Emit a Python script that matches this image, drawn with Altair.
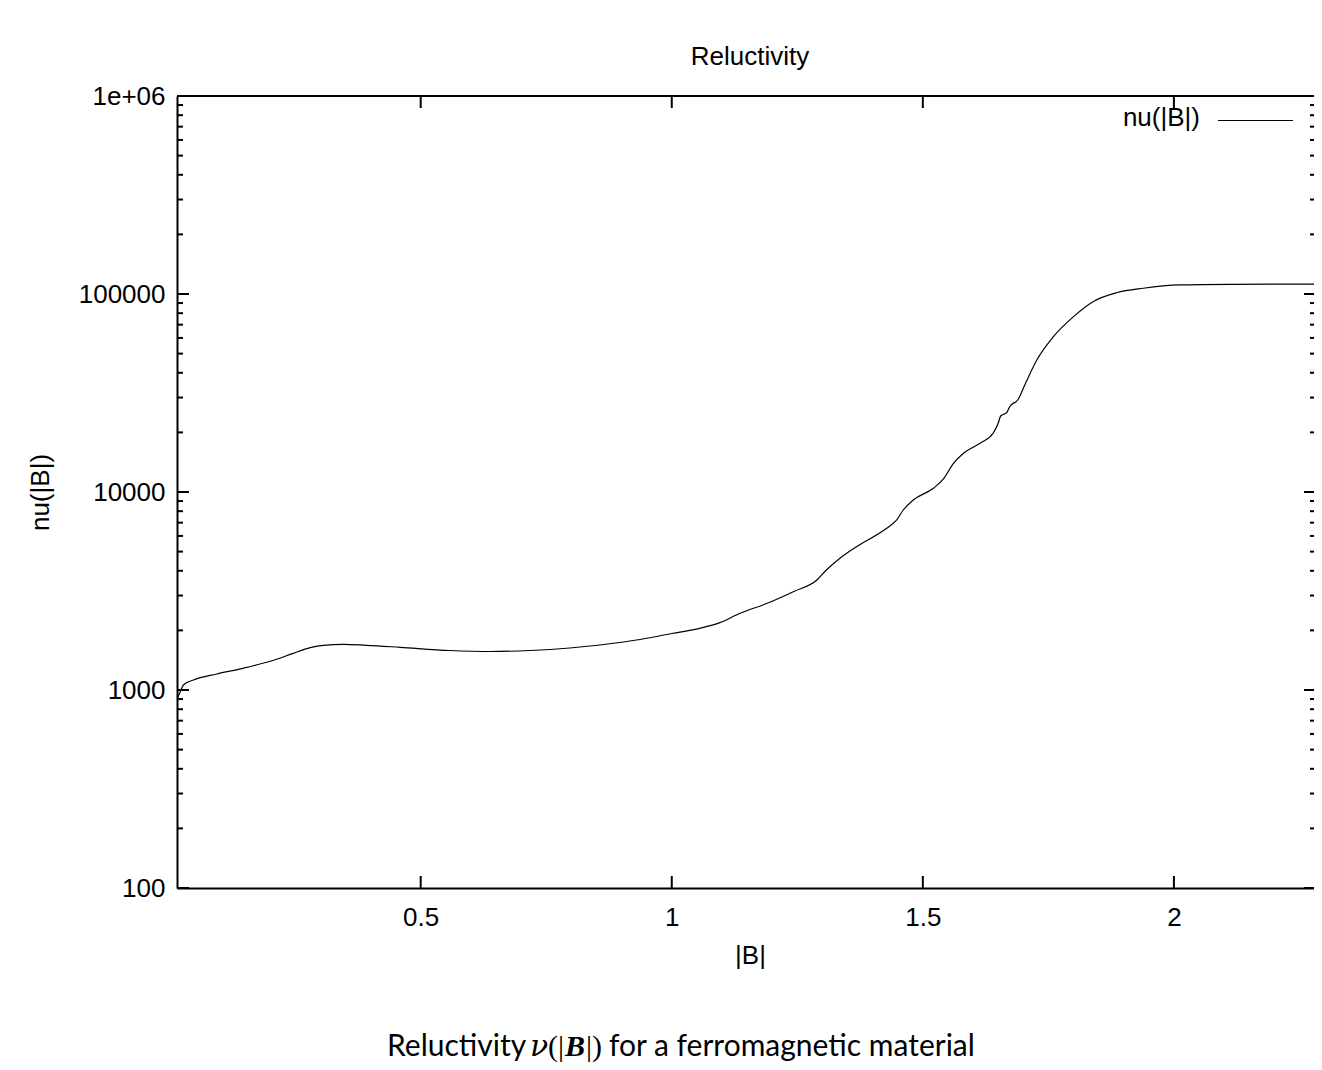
import altair as alt
import pandas as pd

# ---- data ----
B_vals = [0.0147, 0.0227, 0.0273, 0.0472, 0.0938, 0.146, 0.213, 0.246, 0.280, 0.306,
          0.346, 0.392, 0.459, 0.558, 0.638, 0.718, 0.797, 0.857, 0.937, 1.000,
          1.056, 1.096, 1.136, 1.189, 1.242, 1.289, 1.308, 1.335, 1.368, 1.428,
          1.448, 1.461, 1.481, 1.521, 1.541, 1.561, 1.581, 1.614, 1.640, 1.650,
          1.655, 1.667, 1.673, 1.690, 1.703, 1.727, 1.760, 1.800, 1.839, 1.886,
          1.939, 2.012, 2.112, 2.279]
nu_vals = [900, 1000, 1060, 1123, 1205, 1287, 1429, 1532, 1636, 1682,
           1701, 1682, 1643, 1583, 1565, 1583, 1630, 1688, 1799, 1929,
           2049, 2188, 2440, 2735, 3137, 3594, 4037, 4627, 5292, 6557,
           7221, 8111, 9111, 10440, 11633, 13957, 15686, 17620, 19796, 22233,
           24201, 25150, 26970, 29390, 34708, 46420, 60860, 76840, 91440, 101500,
           106900, 111070, 111970, 112300]

y_major = [100, 1000, 10000, 100000, 1000000]
y_major_labels = ["100", "1000", "10000", "100000", "1e+06"]
y_minor = [m * d for d in [100, 1000, 10000, 100000] for m in range(2, 10)]
x_major = [0.5, 1.0, 1.5, 2.0]
x_major_labels = ["0.5", "1", "1.5", "2"]
x_domain = [0.0147, 2.279]
y_domain = [100, 1000000]

title_text = ["Reluctivity"]
x_title = "|B|"
y_title = "nu(|B|)"
legend_label = ["nu(|B|)"]
caption_parts = ["Reluctivity", "\u03bd", "(|", "B", "|)", "for a ferromagnetic material"]

# ---- layout ----
W, H = 1137, 792
FONT = "Liberation Sans"
FS = 26


def label_expr(values, labels):
    expr = "''"
    for v, l in reversed(list(zip(values, labels))):
        expr = f"datum.value == {v} ? '{l}' : ({expr})"
    return expr


df = pd.DataFrame({"B": B_vals, "nu": nu_vals})
xs = alt.Scale(domain=x_domain, zero=False, nice=False)
ys = alt.Scale(type="log", domain=y_domain, nice=False)

x_axis = alt.Axis(
    values=x_major, labelExpr=label_expr(x_major, x_major_labels), ticks=False, tickSize=0,
    grid=False, labelPadding=16, labelFlush=False, labelOverlap=False,
    title=x_title, titleX=573, titleY=67, titleBaseline="middle", titleAlign="center")
y_axis = alt.Axis(
    values=y_major, labelExpr=label_expr(y_major, y_major_labels), ticks=False, tickSize=0,
    grid=False, labelPadding=12, labelFlush=False, labelOverlap=False, labelBound=False,
    title=y_title, titleX=-137, titleY=396, titleAngle=270, titleBaseline="middle",
    titleAlign="center")

line = alt.Chart(df).mark_line(color="black", strokeWidth=1.2, interpolate="monotone", clip=True).encode(
    x=alt.X("B:Q", scale=xs, axis=x_axis),
    y=alt.Y("nu:Q", scale=ys, axis=y_axis),
)

ymaj = pd.DataFrame({"v": y_major})
ymin = pd.DataFrame({"v": y_minor})
xmaj = pd.DataFrame({"v": x_major})
tick = dict(color="black", strokeWidth=2)

left_major = alt.Chart(ymaj).mark_rule(**tick).encode(
    y=alt.Y("v:Q", scale=ys, axis=y_axis), x=alt.value(0), x2=alt.value(12))
left_minor = alt.Chart(ymin).mark_rule(**tick).encode(
    y=alt.Y("v:Q", scale=ys, axis=y_axis), x=alt.value(0), x2=alt.value(6))
right_major = alt.Chart(ymaj).mark_rule(**tick).encode(
    y=alt.Y("v:Q", scale=ys, axis=y_axis), x=alt.value(W), x2=alt.value(W - 10))
right_minor = alt.Chart(ymin).mark_rule(**tick).encode(
    y=alt.Y("v:Q", scale=ys, axis=y_axis), x=alt.value(W), x2=alt.value(W - 4))
bottom_major = alt.Chart(xmaj).mark_rule(**tick).encode(
    x=alt.X("v:Q", scale=xs, axis=x_axis), y=alt.value(H), y2=alt.value(H - 12))
top_major = alt.Chart(xmaj).mark_rule(**tick).encode(
    x=alt.X("v:Q", scale=xs, axis=x_axis), y=alt.value(0), y2=alt.value(12))
top_border = alt.Chart(xmaj).mark_rule(**tick).encode(
    x=alt.value(0), x2=alt.value(W), y=alt.value(0))

title = alt.Chart(pd.DataFrame({"t": title_text})).mark_text(
    font=FONT, fontSize=26, color="black", align="center", baseline="middle").encode(
    text="t:N", x=alt.value(573), y=alt.value(-39))

legend_text = alt.Chart(pd.DataFrame({"t": legend_label})).mark_text(
    font=FONT, fontSize=FS, color="black", align="right", baseline="middle").encode(
    text="t:N", x=alt.value(1023), y=alt.value(22))
legend_line = alt.Chart(pd.DataFrame({"t": legend_label})).mark_rule(color="black", strokeWidth=1.2).encode(
    x=alt.value(1041), x2=alt.value(1116), y=alt.value(24.5))

CAP_Y = 960
cap_specs = [
    (caption_parts[0], 210, "left", "Lato", "normal", "normal"),
    (caption_parts[1], 362, "center", "DejaVu Serif", "italic", "normal"),
    (caption_parts[2], 379, "center", "Liberation Serif", "normal", "normal"),
    (caption_parts[3], 398, "center", "Liberation Serif", "italic", "bold"),
    (caption_parts[4], 417, "center", "Liberation Serif", "normal", "normal"),
    (caption_parts[5], 432, "left", "Lato", "normal", "normal"),
]
caption_layers = []
for txt, cx, al, fnt, fst, fwt in cap_specs:
    caption_layers.append(
        alt.Chart(pd.DataFrame({"t": [txt]})).mark_text(
            font=fnt, fontSize=30, fontStyle=fst, fontWeight=fwt, color="black",
            align=al, baseline="alphabetic").encode(
            text="t:N", x=alt.value(cx), y=alt.value(CAP_Y)))

chart = alt.layer(
    line, left_major, left_minor, right_major, right_minor, bottom_major, top_major,
    top_border, title, legend_text, legend_line, *caption_layers
).properties(
    width=W, height=H,
    padding={"left": 169, "top": 88, "right": 0, "bottom": 174},
    autosize=alt.AutoSizeParams(type="none"),
).configure_view(stroke=None).configure_axis(
    domainColor="black", domainWidth=2, labelColor="black", titleColor="black",
    labelFont=FONT, titleFont=FONT, labelFontSize=FS, titleFontSize=FS,
    titleFontWeight="normal",
)

chart.save("out.html", embed_options={"renderer": "svg", "actions": False})
